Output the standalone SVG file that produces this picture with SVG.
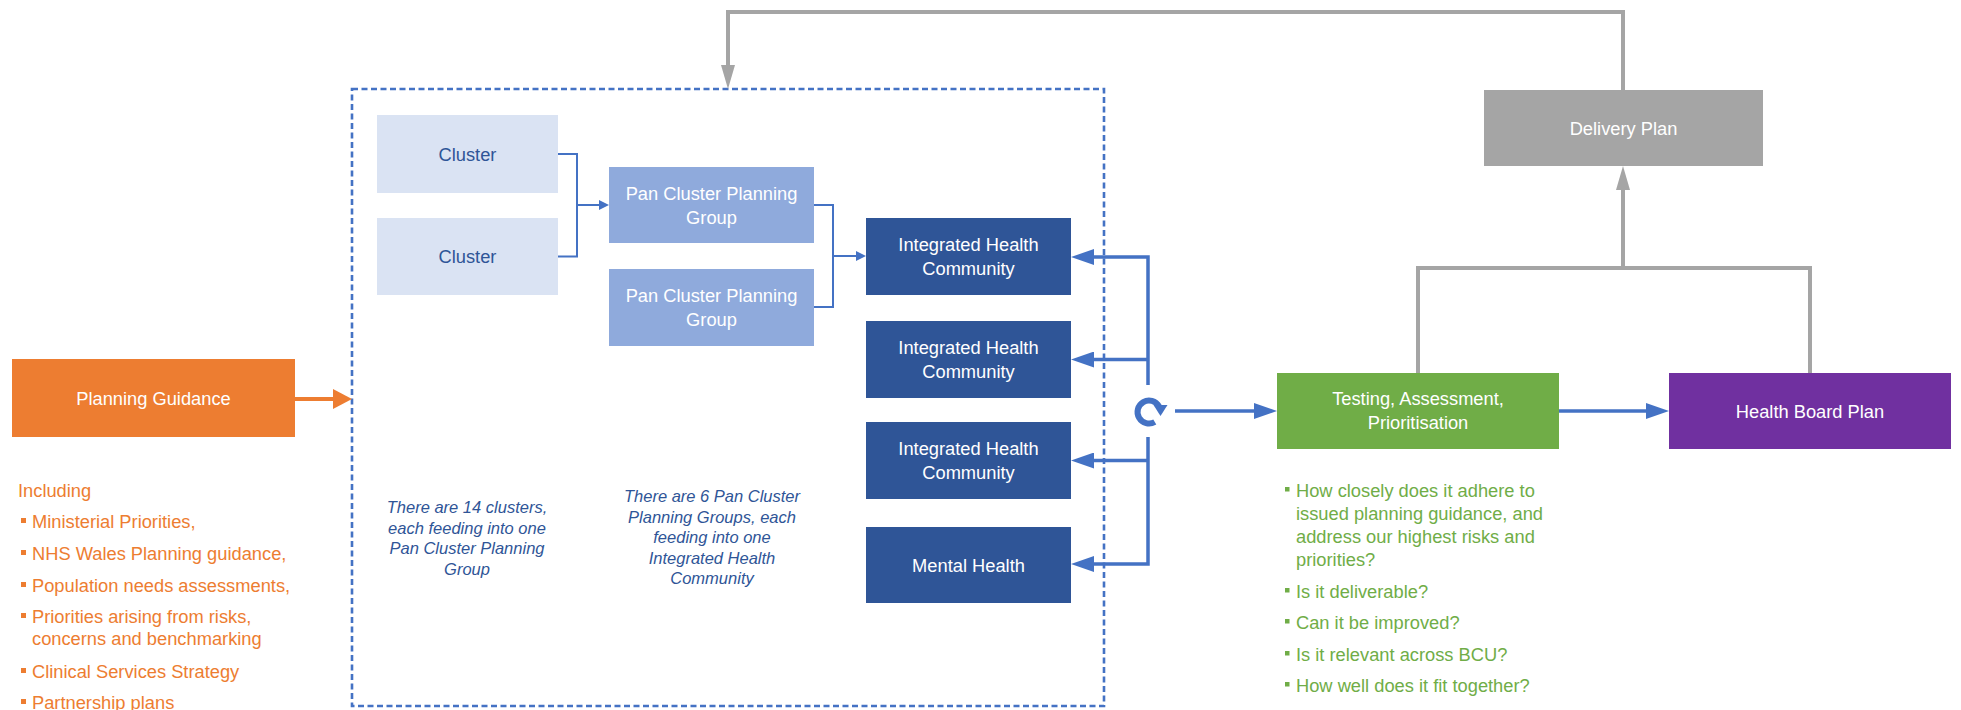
<svg xmlns="http://www.w3.org/2000/svg" width="1961" height="710" viewBox="0 0 1961 710">
<defs>
<style>
text{font-family:"Liberation Sans",Arial,sans-serif;font-size:18.3px}
.c{text-anchor:middle}
.w{fill:#ffffff}
.db{fill:#2F5597}
.note{font-style:italic;font-size:16.5px;fill:#2F5597;text-anchor:middle}
.or{fill:#ED7D31}
.gr{fill:#70AD47}
.blue{stroke:#4472C4;fill:none;stroke-width:3.5}
.thin{stroke:#4472C4;fill:none;stroke-width:2}
.gray{stroke:#A5A5A5;fill:none;stroke-width:4}
</style>
<marker id="mBlue" markerUnits="userSpaceOnUse" markerWidth="23" markerHeight="16" refX="0" refY="8" orient="auto"><path d="M0,0 L23,8 L0,16 z" fill="#4472C4"/></marker>
<marker id="mBlueS" markerUnits="userSpaceOnUse" markerWidth="10" markerHeight="10" refX="0" refY="5" orient="auto"><path d="M0,0 L10,5 L0,10 z" fill="#4472C4"/></marker>
<marker id="mOrange" markerUnits="userSpaceOnUse" markerWidth="19" markerHeight="20" refX="0" refY="10" orient="auto"><path d="M0,0 L19,10 L0,20 z" fill="#ED7D31"/></marker>
<marker id="mGray" markerUnits="userSpaceOnUse" markerWidth="24" markerHeight="14" refX="0" refY="7" orient="auto"><path d="M0,0 L24,7 L0,14 z" fill="#A5A5A5"/></marker>
</defs>
<rect width="1961" height="710" fill="#ffffff"/>

<g id="container">
<rect x="352" y="89" width="752" height="617" fill="none" stroke="#4472C4" stroke-width="2.6" stroke-dasharray="6 3.5"/>
</g>

<g id="connectors">
<path class="gray" d="M1623,90 V12 H728 V65" marker-end="url(#mGray)"/>
<path class="gray" d="M1418,373 V268 H1810 V373 M1623,268 V190" marker-end="url(#mGray)"/>
<line x1="295" y1="399" x2="333" y2="399" stroke="#ED7D31" stroke-width="4" marker-end="url(#mOrange)"/>
<path class="thin" d="M558,154 H577 V256.5 H558 M577,205 H599" marker-end="url(#mBlueS)"/>
<path class="thin" d="M814,205 H833 V307 H814 M833,256 H856" marker-end="url(#mBlueS)"/>
<path class="blue" d="M1148,385 V257 H1094" marker-end="url(#mBlue)"/>
<line class="blue" x1="1148" y1="359.5" x2="1094" y2="359.5" marker-end="url(#mBlue)"/>
<path class="blue" d="M1148,437 V564 H1094" marker-end="url(#mBlue)"/>
<line class="blue" x1="1148" y1="460.5" x2="1094" y2="460.5" marker-end="url(#mBlue)"/>
<line class="blue" x1="1175" y1="411" x2="1254" y2="411" marker-end="url(#mBlue)"/>
<line class="blue" x1="1559" y1="411" x2="1646" y2="411" marker-end="url(#mBlue)"/>
<g id="cycle-icon">
<path d="M1154.8,422 A11.5,11.5 0 1 1 1159,406.3" fill="none" stroke="#4472C4" stroke-width="6"/>
<path d="M1153.5,405 L1167.5,405 L1160.5,416 z" fill="#4472C4"/>
</g>
</g>

<g id="planning-guidance">
<rect x="12" y="359" width="283" height="78" fill="#ED7D31"/>
<text class="c w" x="153.5" y="404.5">Planning Guidance</text>
</g>

<g id="including-list">
<text class="or" x="18" y="497">Including</text>
<rect class="or" x="21" y="518" width="5" height="5"/>
<text class="or" x="32" y="528">Ministerial Priorities,</text>
<rect class="or" x="21" y="550" width="5" height="5"/>
<text class="or" x="32" y="560">NHS Wales Planning guidance,</text>
<rect class="or" x="21" y="582" width="5" height="5"/>
<text class="or" x="32" y="592">Population needs assessments,</text>
<rect class="or" x="21" y="613" width="5" height="5"/>
<text class="or" x="32" y="623">Priorities arising from risks,</text>
<text class="or" x="32" y="645">concerns and benchmarking</text>
<rect class="or" x="21" y="668" width="5" height="5"/>
<text class="or" x="32" y="678">Clinical Services Strategy</text>
<rect class="or" x="21" y="699" width="5" height="5"/>
<text class="or" x="32" y="709">Partnership plans</text>
</g>

<g id="cluster-1">
<rect x="377" y="115" width="181" height="78" fill="#DAE3F3"/>
<text class="c db" x="467.5" y="160.5">Cluster</text>
</g>
<g id="cluster-2">
<rect x="377" y="218" width="181" height="77" fill="#DAE3F3"/>
<text class="c db" x="467.5" y="263">Cluster</text>
</g>

<g id="pcpg-1">
<rect x="609" y="167" width="205" height="76" fill="#8FAADC"/>
<text class="c w" x="711.5" y="199.5">Pan Cluster Planning</text>
<text class="c w" x="711.5" y="223.5">Group</text>
</g>
<g id="pcpg-2">
<rect x="609" y="269" width="205" height="77" fill="#8FAADC"/>
<text class="c w" x="711.5" y="302">Pan Cluster Planning</text>
<text class="c w" x="711.5" y="326">Group</text>
</g>

<g id="ihc-1">
<rect x="866" y="218" width="205" height="77" fill="#2F5597"/>
<text class="c w" x="968.5" y="251">Integrated Health</text>
<text class="c w" x="968.5" y="275">Community</text>
</g>
<g id="ihc-2">
<rect x="866" y="321" width="205" height="77" fill="#2F5597"/>
<text class="c w" x="968.5" y="354">Integrated Health</text>
<text class="c w" x="968.5" y="378">Community</text>
</g>
<g id="ihc-3">
<rect x="866" y="422" width="205" height="77" fill="#2F5597"/>
<text class="c w" x="968.5" y="455">Integrated Health</text>
<text class="c w" x="968.5" y="479">Community</text>
</g>
<g id="mental-health">
<rect x="866" y="527" width="205" height="76" fill="#2F5597"/>
<text class="c w" x="968.5" y="571.5">Mental Health</text>
</g>

<g id="note-clusters">
<text class="note" x="467" y="513">There are 14 clusters,</text>
<text class="note" x="467" y="533.5">each feeding into one</text>
<text class="note" x="467" y="554">Pan Cluster Planning</text>
<text class="note" x="467" y="574.5">Group</text>
</g>
<g id="note-pcpg">
<text class="note" x="712" y="502">There are 6 Pan Cluster</text>
<text class="note" x="712" y="522.5">Planning Groups, each</text>
<text class="note" x="712" y="543">feeding into one</text>
<text class="note" x="712" y="563.5">Integrated Health</text>
<text class="note" x="712" y="584">Community</text>
</g>

<g id="testing">
<rect x="1277" y="373" width="282" height="76" fill="#70AD47"/>
<text class="c w" x="1418" y="405">Testing, Assessment,</text>
<text class="c w" x="1418" y="429">Prioritisation</text>
</g>

<g id="testing-list">
<rect class="gr" x="1285" y="487" width="4.5" height="4.5"/>
<text class="gr" x="1296" y="497">How closely does it adhere to</text>
<text class="gr" x="1296" y="520">issued planning guidance, and</text>
<text class="gr" x="1296" y="543">address our highest risks and</text>
<text class="gr" x="1296" y="566">priorities?</text>
<rect class="gr" x="1285" y="588" width="4.5" height="4.5"/>
<text class="gr" x="1296" y="598">Is it deliverable?</text>
<rect class="gr" x="1285" y="619" width="4.5" height="4.5"/>
<text class="gr" x="1296" y="629">Can it be improved?</text>
<rect class="gr" x="1285" y="651" width="4.5" height="4.5"/>
<text class="gr" x="1296" y="661">Is it relevant across BCU?</text>
<rect class="gr" x="1285" y="682" width="4.5" height="4.5"/>
<text class="gr" x="1296" y="692">How well does it fit together?</text>
</g>

<g id="health-board-plan">
<rect x="1669" y="373" width="282" height="76" fill="#7030A0"/>
<text class="c w" x="1810" y="417.5">Health Board Plan</text>
</g>

<g id="delivery-plan">
<rect x="1484" y="90" width="279" height="76" fill="#A5A5A5"/>
<text class="c w" x="1623.5" y="134.5">Delivery Plan</text>
</g>
</svg>
